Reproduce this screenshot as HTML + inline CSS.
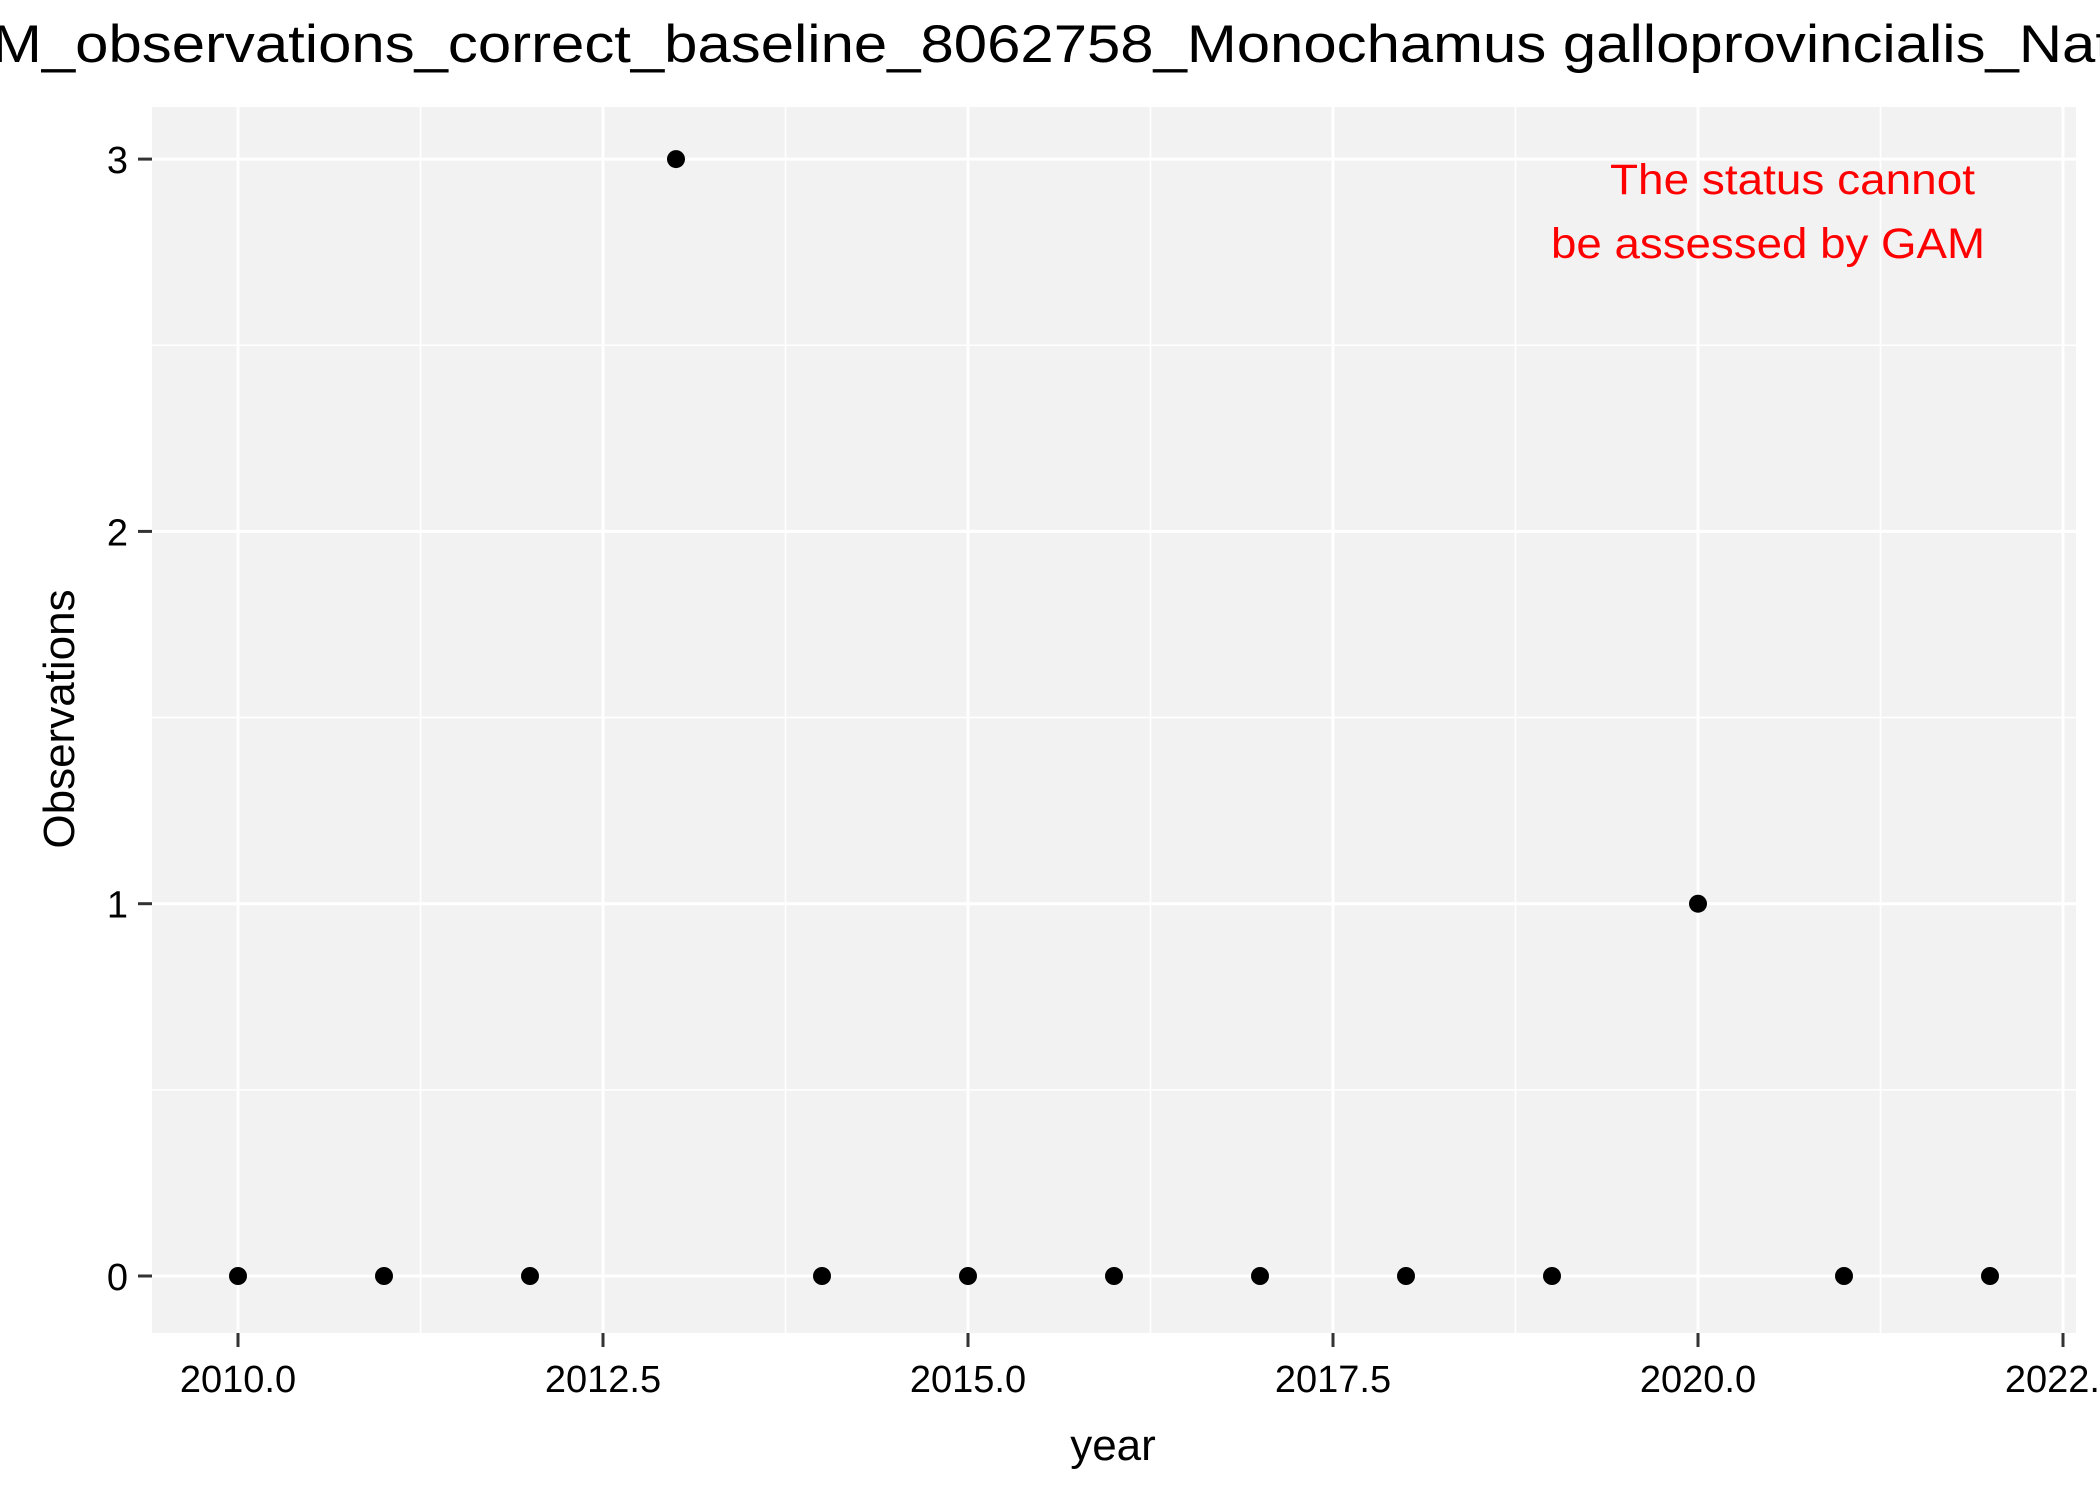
<!DOCTYPE html>
<html><head><meta charset="utf-8"><style>
html,body{margin:0;padding:0;background:#fff;}
svg{display:block;font-family:"Liberation Sans",Arial,sans-serif;}
</style></head><body>
<svg id="chart" width="2100" height="1499" viewBox="0 0 2100 1499" xmlns="http://www.w3.org/2000/svg">
<text x="-8" y="62" font-size="53" fill="#000" textLength="2120" lengthAdjust="spacingAndGlyphs">M_observations_correct_baseline_8062758_Monochamus galloprovincialis_Nat</text>
<rect x="152" y="107" width="1924" height="1226" fill="#f2f2f2"/>
<g id="grid"></g>
<g id="points"></g>
<g id="axes"></g>
<text x="1610" y="194" font-size="43" fill="#ff0000" textLength="365" lengthAdjust="spacingAndGlyphs">The status cannot</text>
<text x="1551" y="258" font-size="43" fill="#ff0000" textLength="434" lengthAdjust="spacingAndGlyphs">be assessed by GAM</text>
<text x="1113" y="1460" font-size="44" text-anchor="middle">year</text>
<text x="0" y="0" font-size="44" text-anchor="middle" transform="translate(74,719) rotate(-90)">Observations</text>
</svg>
<script>
const years = [2010,2011,2012,2013,2014,2015,2016,2017,2018,2019,2020,2021,2022];
const observations = [0,0,0,3,0,0,0,0,0,0,1,0,0];
const xTicks = [2010,2012.5,2015,2017.5,2020,2022.5];
const xTickLabels = ["2010.0","2012.5","2015.0","2017.5","2020.0","2022.5"];
const yTicks = [0,1,2,3];
const yTickLabels = ["0","1","2","3"];

const NS="http://www.w3.org/2000/svg";
const px0=152, px1=2076, py0=107, py1=1333;
function xs(v){return 238 + (v-2010)*146;}
function ys(v){return 1276 - v*372.3;}
function mk(tag,attrs,parent){const e=document.createElementNS(NS,tag);for(const k in attrs)e.setAttribute(k,attrs[k]);parent.appendChild(e);return e;}
const grid=document.getElementById('grid'), pts=document.getElementById('points'), axes=document.getElementById('axes');

for(let i=0;i<xTicks.length-1;i++){
  const m=(xTicks[i]+xTicks[i+1])/2;
  const l=mk('line',{x1:xs(m),x2:xs(m),y1:py0,y2:py1,stroke:'#fff','stroke-width':1.5},grid);
  
  
}
for(let i=0;i<yTicks.length-1;i++){
  const m=(yTicks[i]+yTicks[i+1])/2;
  const l=mk('line',{x1:px0,x2:px1,y1:ys(m),y2:ys(m),stroke:'#fff','stroke-width':1.5},grid);
  
  
}
xTicks.forEach((t,i)=>{
  const x=xs(t);
  if(x<=px1){
    const l=mk('line',{x1:x,x2:x,y1:py0,y2:py1,stroke:'#fff','stroke-width':3},grid);
    
    
  }
  const tk=mk('line',{x1:x,x2:x,y1:py1,y2:py1+14,stroke:'#333','stroke-width':3},axes);
  
  
  const tx=mk('text',{x:x,y:py1+59,'font-size':38,'text-anchor':'middle',fill:'#000'},axes);
  tx.textContent=xTickLabels[i];
  
  
});
yTicks.forEach((t,i)=>{
  const y=ys(t);
  const l=mk('line',{x1:px0,x2:px1,y1:y,y2:y,stroke:'#fff','stroke-width':3},grid);
  
  
  const tk=mk('line',{x1:px0-14,x2:px0,y1:y,y2:y,stroke:'#333','stroke-width':3},axes);
  
  
  const tx=mk('text',{x:px0-24,y:y+14,'font-size':38,'text-anchor':'end',fill:'#000'},axes);
  tx.textContent=yTickLabels[i];
  
  
});
years.forEach((yr,i)=>{
  const c=mk('circle',{cx:xs(yr),cy:ys(observations[i]),r:9,fill:'#000'},pts);
  
  
});
</script>
</body></html>
